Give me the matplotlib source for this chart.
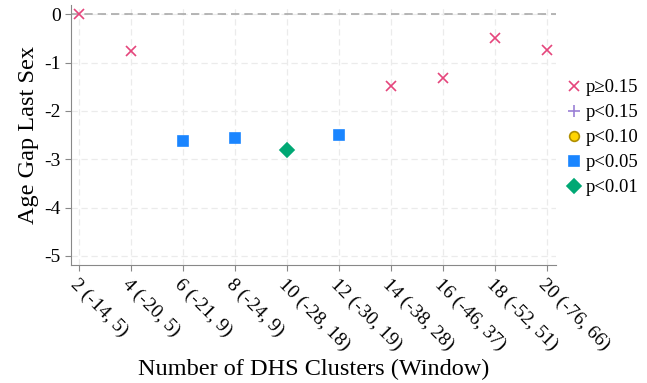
import matplotlib.pyplot as plt
from matplotlib.lines import Line2D

# Dados
rotulos = ["2 (-14, 5)", "4 (-20, 5)", "6 (-21, 9)", "8 (-24, 9)", "10 (-28, 18)",
           "12 (-30, 19)", "14 (-38, 28)", "16 (-46, 37)", "18 (-52, 51)", "20 (-76, 66)"]
coef = [0.0, -0.76, -2.62, -2.56, -2.81, -2.50, -1.49, -1.32, -0.50, -0.74]
# categoria de significância de cada ponto (0: p>=0.15 ... 4: p<0.01)
signif = [0, 0, 3, 3, 4, 3, 0, 0, 0, 0]

nomes = ["p≥0.15", "p<0.15", "p<0.10", "p<0.05", "p<0.01"]
marcadores = ["x", "+", "o", "s", "D"]
cores = ["#E5457C", "#9B80D6", "#FFD400", "#1A85FF", "#00A874"]
tamanhos = [7, 9, 7, 7, 7]

plt.rcParams['font.family'] = ['Liberation Serif', 'DejaVu Serif']

fig = plt.figure(figsize=(6.47, 3.83), dpi=100)
ax = fig.add_axes([0.1097, 0.308, 0.749, 0.679])

x = list(range(1, len(rotulos) + 1))
for xi, yi, s in zip(x, coef, signif):
    borda = "#B08F00" if marcadores[s] == "o" else cores[s]
    ax.plot(xi, yi, linestyle="none", marker=marcadores[s], color=cores[s],
            markeredgecolor=borda, markersize=tamanhos[s], markeredgewidth=1.2, zorder=3)

ax.axhline(0, color="#AAAAAA", linestyle=(0, (5, 3)), linewidth=1.2, zorder=1)

ax.set_xlim(0.846, 10.17)
ax.set_ylim(-5.19, 0.19)
ax.set_xticks(x)
ax.set_xticklabels(rotulos, rotation=-45, ha="left", rotation_mode="anchor", fontsize=14)
ax.set_yticks([0, -1, -2, -3, -4, -5])
ax.set_yticklabels(["0", "-1", "-2", "-3", "-4", "-5"], fontsize=14)
ax.grid(True, color="#EBEBEB", linestyle=(0, (5, 3)), linewidth=0.9)
ax.set_axisbelow(True)

for lado in ["top", "right"]:
    ax.spines[lado].set_visible(False)
for lado in ["left", "bottom"]:
    ax.spines[lado].set_color("#888888")
ax.tick_params(colors="#888888", labelcolor="black", length=4)

ax.set_ylabel("Age Gap Last Sex", fontsize=17.5, labelpad=4)
ax.set_xlabel("Number of DHS Clusters (Window)", fontsize=17.5, labelpad=4)

# Legenda
itens = []
for n, m, c, t in zip(nomes, marcadores, cores, tamanhos):
    borda = "#B08F00" if m == "o" else c
    itens.append(Line2D([], [], linestyle="none", marker=m, color=c, markeredgecolor=borda,
                        markersize=t, markeredgewidth=1.2, label=n))
fig.legend(handles=itens, loc="upper left", bbox_to_anchor=(0.864, 0.803), frameon=False,
           fontsize=13.5, handletextpad=0.05, labelspacing=0.42, handlelength=1.2,
           borderpad=0.2, borderaxespad=0.0)

fig.savefig("out.png", dpi=100)
